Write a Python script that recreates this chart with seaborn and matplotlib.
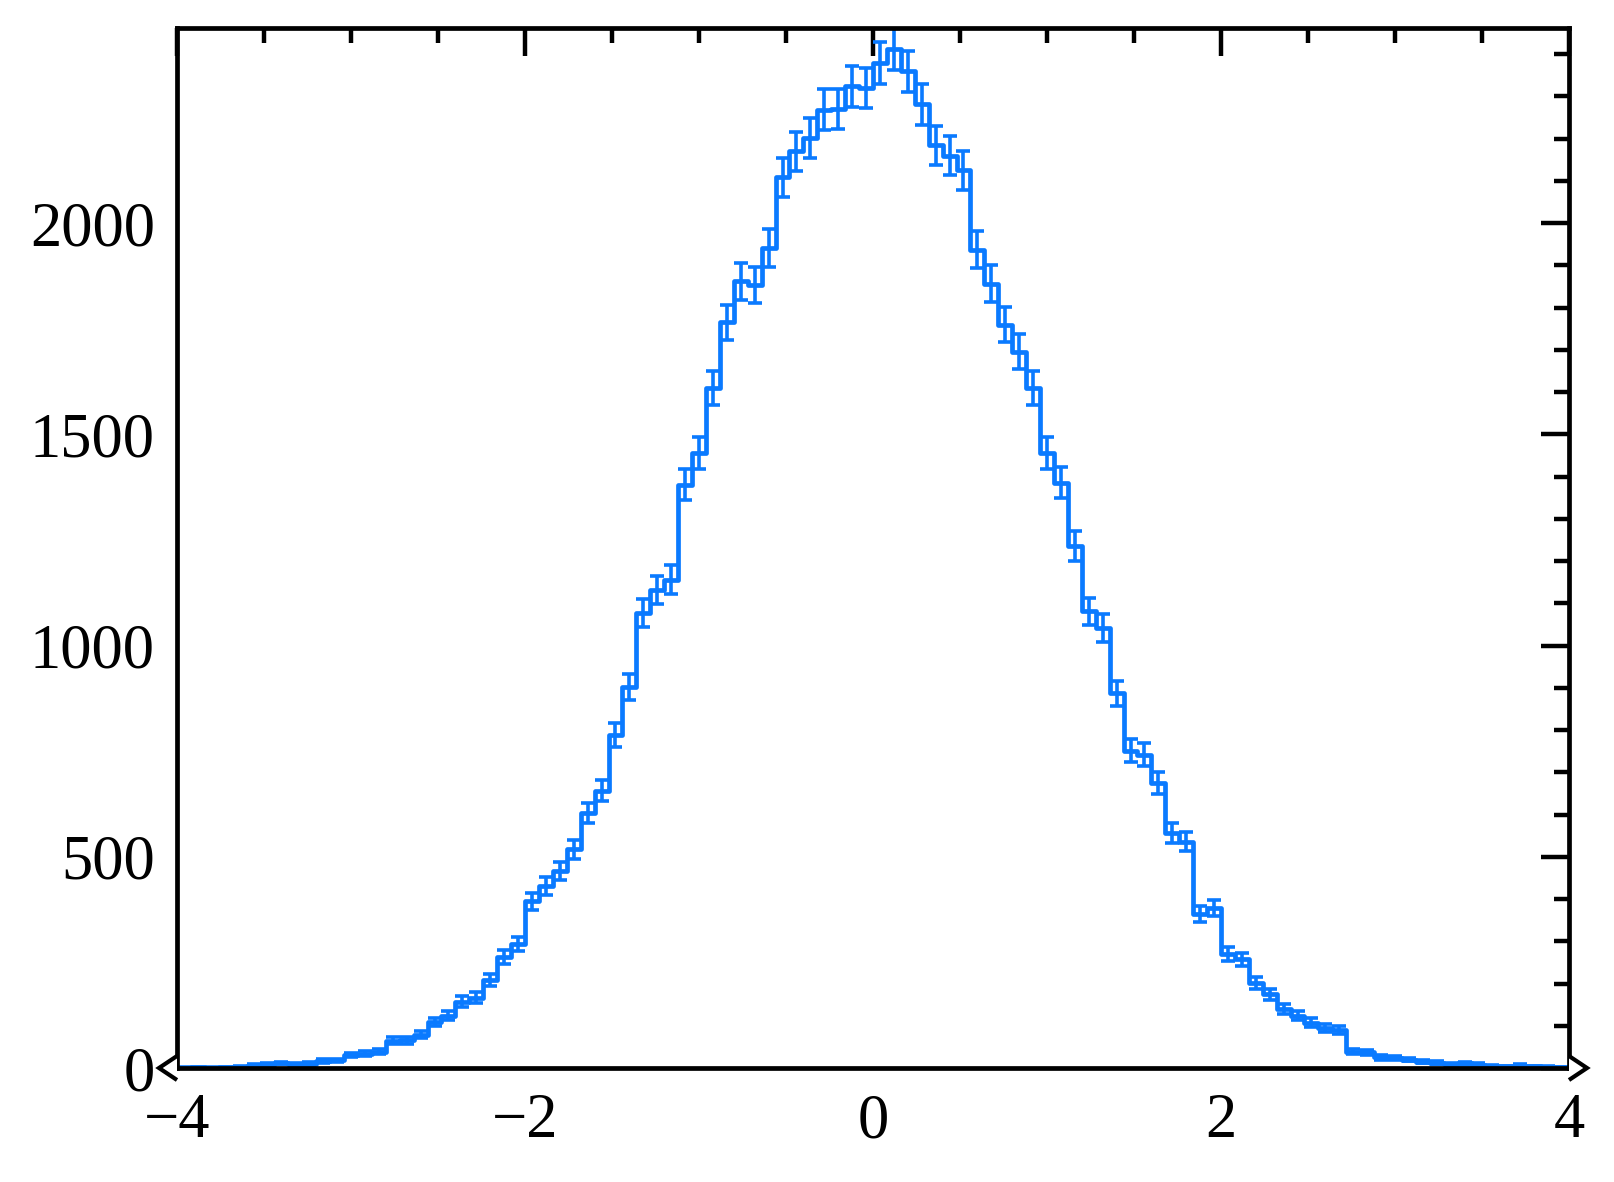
import numpy as np
import pandas as pd
import matplotlib
matplotlib.use("Agg")
import matplotlib.pyplot as plt
import seaborn as sns
from matplotlib.ticker import MultipleLocator

# Binned counts (100 bins from -4 to 4)

bin_lo = -4.0
bin_hi = 4.0
n_bins = 100

counts = np.array([
    1, 2, 1, 2, 3, 6, 8, 12, 9, 10,
    17, 18, 31, 34, 39, 65, 66, 79, 109, 124,
    157, 166, 209, 263, 294, 395, 431, 466, 518, 604,
    657, 788, 902, 1077, 1132, 1156, 1381, 1456, 1610, 1765,
    1862, 1854, 1941, 2109, 2170, 2202, 2269, 2270, 2324, 2320,
    2379, 2412, 2360, 2281, 2184, 2160, 2125, 1937, 1857, 1760,
    1696, 1610, 1456, 1386, 1235, 1081, 1042, 887, 751, 742,
    674, 556, 536, 364, 379, 271, 257, 201, 175, 140,
    124, 107, 95, 91, 39, 37, 25, 23, 20, 15,
    13, 9, 11, 8, 5, 4, 6, 4, 3, 2,
])

x_ticks = [-4, -2, 0, 2, 4]
y_ticks = [0, 500, 1000, 1500, 2000]

edges = np.linspace(bin_lo, bin_hi, n_bins + 1)
centers = 0.5 * (edges[:-1] + edges[1:])
errors = np.sqrt(counts)

df = pd.DataFrame({'x': centers, 'count': counts.astype(float)})

# Style

sns.set_style("white")
plt.rcParams['font.family'] = ['Liberation Serif', 'DejaVu Serif']
plt.rcParams['axes.unicode_minus'] = True
plt.rcParams['text.color'] = 'black'
plt.rcParams['xtick.color'] = 'black'
plt.rcParams['ytick.color'] = 'black'
plt.rcParams['xtick.labelcolor'] = 'black'
plt.rcParams['ytick.labelcolor'] = 'black'

blue = '#0a7aff'

fig, ax = plt.subplots(figsize=(8.075, 5.91), dpi=200)
fig.subplots_adjust(left=0.1096, right=0.9715, top=0.976, bottom=0.0964)

sns.histplot(data=df, x='x', weights='count', bins=list(edges), element='step',
             fill=False, color=blue, linewidth=1.7, ax=ax)
ax.errorbar(centers, counts, yerr=errors, fmt='none', ecolor=blue,
            elinewidth=1.3, capsize=2.4, capthick=1.3)

ax.set_xlim(bin_lo, bin_hi)
ax.set_ylim(0, (counts + errors).max())
ax.set_xlabel('')
ax.set_ylabel('')

ax.set_xticks(x_ticks)
ax.set_yticks(y_ticks)
ax.xaxis.set_minor_locator(MultipleLocator(0.5))
ax.yaxis.set_minor_locator(MultipleLocator(100))
ax.tick_params(which='both', direction='in', top=True, right=True,
               labelsize=22.5, width=1.6, color='black', labelcolor='black')
ax.tick_params(which='major', length=10)
ax.tick_params(which='minor', length=5.5)
ax.tick_params(axis='x', pad=9)
ax.tick_params(axis='y', pad=8)

for s in ax.spines.values():
    s.set_linewidth(1.7)
    s.set_color('black')

# arrow heads at both ends of the x axis
ax.plot(0, 0, marker=8, ms=8.5, mfc='white', mec='black', mew=1.5,
        transform=ax.get_yaxis_transform(), clip_on=False, zorder=5)
ax.plot(1, 0, marker=9, ms=8.5, mfc='white', mec='black', mew=1.5,
        transform=ax.get_yaxis_transform(), clip_on=False, zorder=5)

plt.savefig('out.png', dpi=200)
